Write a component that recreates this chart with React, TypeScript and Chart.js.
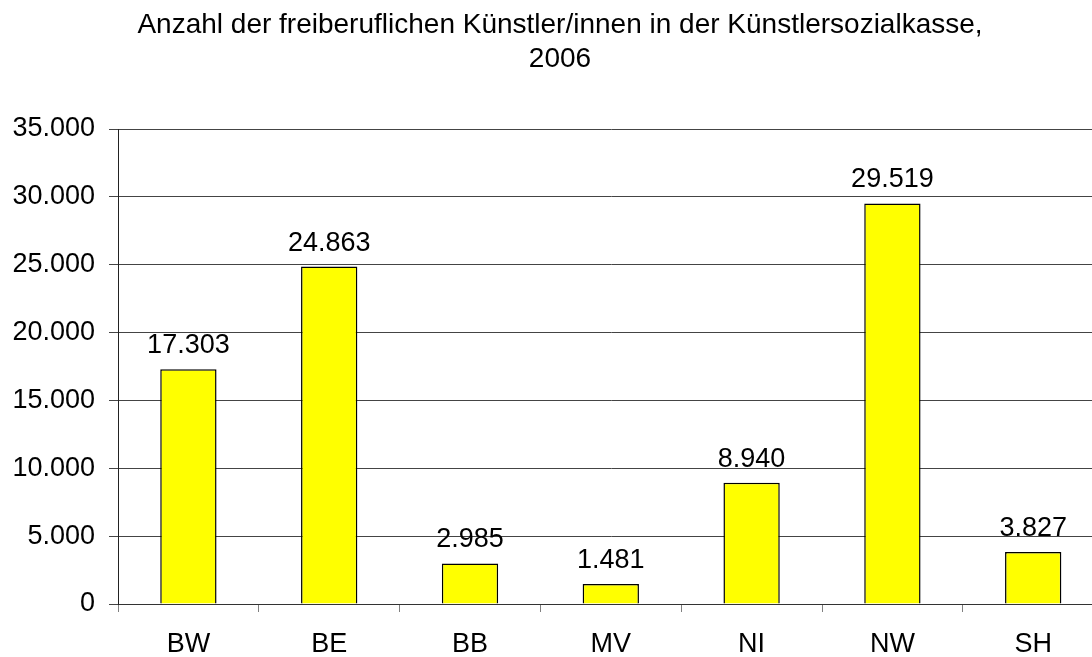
import React, { useEffect, useRef } from "react";
import { Chart, registerables } from "chart.js";

Chart.register(...registerables);

const titleLines = [
  "Anzahl der freiberuflichen Künstler/innen in der Künstlersozialkasse,",
  "2006",
];
const categories = ["BW", "BE", "BB", "MV", "NI", "NW", "SH"];
const values = [17303, 24863, 2985, 1481, 8940, 29519, 3827];
const yTicks = [0, 5000, 10000, 15000, 20000, 25000, 30000, 35000];

const FONT = "'Liberation Sans', Arial, sans-serif";

function fmt(v: number): string {
  return String(Math.round(v)).replace(/\B(?=(\d{3})+(?!\d))/g, ".");
}

export default function App() {
  const ref = useRef<HTMLCanvasElement | null>(null);

  useEffect(() => {
    const canvas = ref.current;
    if (!canvas) return;

    const titlePlugin = {
      id: "twoLineTitle",
      afterDraw(chart: any) {
        const ctx = chart.ctx;
        ctx.save();
        ctx.fillStyle = "#000";
        ctx.font = `28px ${FONT}`;
        ctx.textAlign = "center";
        ctx.textBaseline = "alphabetic";
        ctx.fillText(titleLines[0], 560, 32.5);
        ctx.fillText(titleLines[1], 560, 67);
        ctx.restore();
      },
    };

    const labelPlugin = {
      id: "valueLabels",
      afterDatasetsDraw(chart: any) {
        const ctx = chart.ctx;
        const meta = chart.getDatasetMeta(0);
        ctx.save();
        ctx.fillStyle = "#000";
        ctx.font = `27px ${FONT}`;
        ctx.textAlign = "center";
        ctx.textBaseline = "alphabetic";
        meta.data.forEach((bar: any, i: number) => {
          ctx.fillText(fmt(values[i]), bar.x, bar.y - 16);
        });
        ctx.restore();
      },
    };

    const chart = new Chart(canvas, {
      type: "bar",
      data: {
        labels: categories,
        datasets: [
          {
            data: values,
            backgroundColor: "#FFFF00",
            borderColor: "#000000",
            borderWidth: 1.5,
            barPercentage: 0.4,
            categoryPercentage: 1,
          },
        ],
      },
      options: {
        responsive: false,
        animation: false,
        layout: { padding: { left: 0, top: 129, right: 16.4, bottom: 0 } },
        plugins: {
          legend: { display: false },
          title: { display: false },
          tooltip: { enabled: false },
        },
        scales: {
          x: {
            offset: true,
            grid: {
              drawOnChartArea: false,
              drawTicks: true,
              tickLength: 8,
              color: "#808080",
              offset: true,
            },
            border: { color: "#333", width: 1 },
            ticks: {
              color: "#000",
              font: { family: FONT, size: 27 },
              padding: 16,
              maxRotation: 0,
            },
            afterFit(scale: any) {
              scale.height = 53;
            },
          },
          y: {
            min: 0,
            max: 35000,
            afterBuildTicks(scale: any) {
              scale.ticks = yTicks.map((v) => ({ value: v }));
            },
            grid: {
              color: "#444",
              lineWidth: 1,
              tickLength: 9,
              drawTicks: true,
            },
            border: { color: "#222", width: 1 },
            ticks: {
              color: "#000",
              font: { family: FONT, size: 27 },
              padding: 14,
              callback: (v: any) => fmt(Number(v)),
            },
            afterFit(scale: any) {
              scale.width = 118;
            },
          },
        },
      },
      plugins: [titlePlugin, labelPlugin],
    });

    return () => chart.destroy();
  }, []);

  return (
    <div
      style={{
        position: "absolute",
        left: 0,
        top: 0,
        width: 1092,
        height: 657,
        overflow: "hidden",
        background: "#fff",
      }}
    >
      <canvas ref={ref} width={1120} height={657} style={{ display: "block" }} />
    </div>
  );
}
